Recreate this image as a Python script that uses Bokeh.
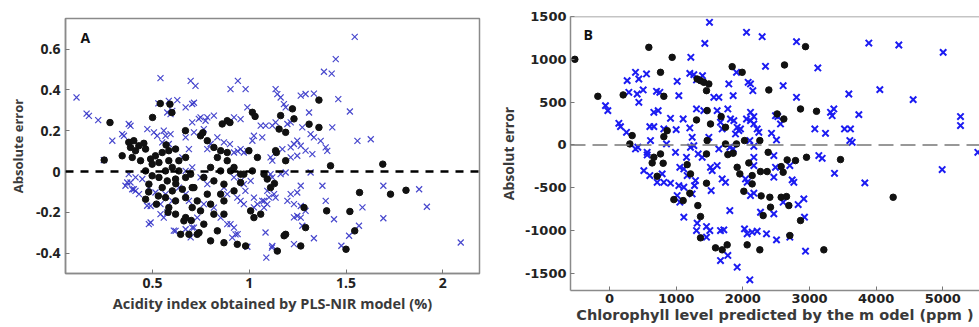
from jinja2 import Template
from bokeh.plotting import figure
from bokeh.models import FixedTicker, Span, Label, Range1d
from bokeh.embed import file_html
from bokeh.resources import INLINE

# ---------------- Panel A data (acidity) ----------------
a_x_ticks = [0.5, 1, 1.5, 2]
a_x_labels = ["0.5", "1", "1.5", "2"]
a_y_ticks = [-0.4, -0.2, 0, 0.2, 0.4, 0.6]
a_y_labels = ["-0.4", "-0.2", "0", "0.2", "0.4", "0.6"]

a_dots = [
    (0.25, 0.056), (0.28, 0.24), (0.50, 0.265), (0.54, 0.333), (0.59, 0.33), (0.60, 0.289), (0.67, 0.2),
    (0.377, 0.143), (0.403, 0.151), (0.429, 0.126), (0.455, 0.138), (0.386, 0.118), (0.412, 0.102),
    (0.464, 0.11), (0.343, 0.077), (0.395, 0.069), (0.438, 0.053), (0.49, 0.061), (0.515, 0.077),
    (0.55, 0.093), (0.584, 0.102), (0.619, 0.11), (0.498, 0.036), (0.533, 0.044), (0.584, 0.053),
    (0.636, 0.053), (0.671, 0.069), (0.567, 0.003), (0.602, 0.02), (0.636, 0.003), (0.464, 0.003),
    (0.498, -0.021), (0.533, -0.029), (0.576, -0.046), (0.619, -0.037), (0.671, -0.029), (0.697, -0.013),
    (0.481, -0.062), (0.55, -0.079), (0.602, -0.095), (0.654, -0.087), (0.705, -0.079), (0.464, -0.136),
    (0.567, -0.128), (0.619, -0.144), (0.671, -0.128), (0.584, -0.177), (0.619, -0.209), (0.671, -0.226),
    (0.705, -0.177), (0.645, -0.308), (0.688, -0.308), (0.662, -0.242),
    (0.86, 0.233), (0.886, 0.249), (1.016, 0.29), (1.03, 0.27), (1.162, 0.274), (1.223, 0.307),
    (1.231, 0.258), (1.154, 0.208), (1.188, 0.192),
    (0.748, 0.175), (0.783, 0.151), (0.817, 0.118), (0.852, 0.102), (0.886, 0.093), (0.835, 0.069),
    (0.886, 0.053), (0.921, 0.02), (0.955, -0.013), (0.998, 0.102), (1.042, 0.069), (1.136, 0.102),
    (1.188, 0.053), (0.8, 0.02), (0.852, 0.003), (0.903, 0.003), (0.972, -0.013), (1.016, 0.003),
    (1.076, -0.013), (1.093, -0.037), (0.955, -0.054), (1.11, -0.079), (0.765, -0.029), (0.817, -0.046),
    (0.869, -0.062), (0.714, -0.079), (0.783, -0.111), (0.852, -0.111), (0.921, -0.095), (0.731, -0.144),
    (0.8, -0.16), (0.869, -0.144), (0.748, -0.193), (0.817, -0.209), (0.869, -0.209), (1.007, -0.193),
    (1.059, -0.209), (1.024, -0.226), (0.765, -0.258), (0.835, -0.291), (0.731, -0.308), (0.8, -0.34),
    (0.869, -0.349), (0.938, -0.357), (0.981, -0.365), (1.145, -0.39), (1.188, -0.308), (1.266, -0.365),
    (1.291, -0.275), (1.283, -0.177),
    (1.309, 0.232), (1.36, 0.216), (1.36, 0.35), (1.42, 0.028), (1.40, -0.193), (1.52, -0.196),
    (1.545, -0.291), (1.50, -0.381), (1.57, -0.103), (1.69, 0.036), (1.73, -0.111), (1.81, -0.092),
    (1.14, 0.093), (1.13, -0.059), (1.18, -0.315),
    (0.48, -0.1), (0.52, -0.16), (0.58, -0.2), (0.53, -0.12), (0.7, -0.24), (0.74, -0.3), (0.9, 0.24),
    (0.62, -0.06), (0.57, 0.13), (0.76, 0.19),
]

a_crosses = [
    (0.107, 0.363), (0.159, 0.284), (0.171, 0.273), (0.219, 0.252), (0.248, 0.056), (0.292, 0.151),
    (0.343, 0.183), (0.352, 0.175), (0.377, 0.233), (0.386, 0.224), (0.473, 0.208), (0.507, 0.192),
    (0.524, 0.175), (0.558, 0.2), (0.567, 0.175), (0.593, 0.183), (0.55, 0.143), (0.584, 0.135),
    (0.541, 0.458), (0.697, 0.444), (0.722, 0.42), (0.53, 0.334), (0.584, 0.346), (0.628, 0.35),
    (0.671, 0.314), (0.714, 0.337), (0.576, 0.289), (0.593, 0.281), (0.602, 0.297), (0.705, 0.331),
    (0.748, 0.265), (0.783, 0.265), (0.903, 0.404), (0.941, 0.444), (0.981, 0.404), (0.99, 0.314),
    (1.136, 0.404), (1.145, 0.379), (1.162, 0.363), (1.179, 0.33), (1.188, 0.314), (1.266, 0.372),
    (1.291, 0.38), (1.334, 0.382), (1.386, 0.489), (1.426, 0.48), (1.447, 0.551), (1.46, 0.355),
    (1.52, 0.294), (1.545, 0.66), (1.559, 0.15), (1.628, 0.158), (1.693, -0.07), (1.693, -0.229),
    (1.585, -0.176), (1.567, -0.266), (1.516, -0.315), (1.476, -0.364), (1.878, -0.087), (1.918, -0.173),
    (2.093, -0.348), (1.309, 0.289), (1.274, 0.216), (1.317, 0.183), (1.334, 0.167), (1.369, 0.15),
    (1.395, 0.118), (1.403, 0.101), (1.429, 0.216), (1.378, -0.07), (1.395, -0.144), (1.438, -0.234),
    (1.326, 0.085), (1.317, -0.005), (1.334, -0.327), (1.231, -0.225), (1.274, -0.266), (1.231, -0.356),
    (1.117, -0.373), (1.088, -0.422), (1.084, -0.299), (0.99, -0.369), (1.076, -0.144), (1.093, -0.16),
    (1.102, -0.127), (1.024, -0.176), (0.49, -0.25), (0.472, -0.168), (0.412, -0.095), (0.369, -0.054),
    (0.395, -0.087), (0.671, 0.167), (0.688, 0.11), (0.654, 0.069),
    (0.377, -0.013), (0.412, -0.029), (0.386, -0.054), (0.36, -0.07), (0.447, -0.037), (0.403, -0.087),
    (0.43, -0.111), (0.481, -0.079), (0.515, -0.103), (0.49, -0.169), (0.541, -0.16), (0.567, -0.111),
    (0.602, -0.144), (0.541, -0.209), (0.558, -0.226), (0.576, -0.201), (0.481, -0.258), (0.619, -0.291),
    (0.671, -0.283), (0.705, -0.275), (0.705, 0.02), (0.671, 0.003), (0.636, -0.079), (0.671, -0.111),
    (0.688, -0.144), (0.705, 0.241), (0.739, 0.258), (0.774, 0.249), (0.765, 0.208), (0.714, 0.192),
    (0.817, 0.274), (0.921, 0.265), (0.955, 0.257), (1.059, 0.225), (1.085, 0.225), (1.119, 0.225),
    (1.136, 0.241), (1.197, 0.233), (1.214, 0.241), (1.016, 0.151), (1.024, 0.175), (1.067, 0.167),
    (1.11, 0.069), (1.119, 0.053), (1.171, 0.11), (1.214, 0.118), (1.231, 0.135), (1.248, 0.151),
    (1.266, 0.126), (1.291, 0.102), (1.214, 0.069), (1.248, 0.077), (0.955, 0.11), (0.972, 0.093),
    (0.921, 0.093), (0.869, 0.143), (0.835, 0.167), (0.8, 0.135), (0.783, 0.11), (1.11, -0.013),
    (1.119, -0.029), (1.162, -0.013), (1.188, -0.005), (1.266, -0.07), (1.248, -0.103), (1.214, -0.111),
    (1.197, -0.144), (1.231, -0.16), (1.266, -0.169), (1.291, -0.193), (1.093, -0.095), (1.128, -0.111),
    (1.136, -0.128), (1.024, -0.128), (1.042, -0.16), (1.067, -0.144), (1.076, -0.177), (0.938, -0.128),
    (0.955, -0.144), (0.972, -0.16), (0.869, -0.079), (0.886, -0.111), (0.921, -0.029), (0.972, -0.062),
    (1.007, -0.046), (0.748, -0.029), (0.783, -0.062), (0.765, -0.16), (0.817, -0.177), (0.852, -0.226),
    (0.903, -0.258), (0.921, -0.275), (0.929, -0.308), (0.912, -0.324), (1.119, -0.365), (1.248, -0.218),
    (1.266, -0.226), (0.731, -0.226), (0.714, -0.275), (0.61, -0.29), (0.697, -0.323), (0.94, -0.307),
    (0.886, -0.258), (0.955, -0.046), (0.98, -0.095), (0.94, 0.1), (0.99, 0.1), (0.9, 0.134),
]

# ---------------- Panel B data (chlorophyll) ----------------
b_x_ticks = [0, 1000, 2000, 3000, 4000, 5000]
b_x_labels = ["0", "1000", "2000", "3000", "4000", "5000"]
b_y_ticks = [-1500, -1000, -500, 0, 500, 1000, 1500]
b_y_labels = ["-1500", "-1000", "-500", "0", "500", "1000", "1500"]

b_dots = [
    (-520, 1000), (-175, 568), (205, 584), (340, 109), (305, 12), (590, 1140), (940, 1023), (765, 848),
    (815, 568), (865, 167), (815, 97), (665, -144), (640, -210), (765, -105), (805, -214), (715, -366),
    (965, -638), (1105, -650), (1165, -230), (1215, -338), (1205, -564), (1315, 770), (1365, 751),
    (1415, 731), (1490, 712), (1455, 634), (1465, 401), (1305, 292), (1515, 245), (1465, 51),
    (1455, -105), (1455, -447), (1325, -708), (1365, -836), (1365, -1085), (1590, -1202), (1690, -1225),
    (1765, -1167), (1675, 331), (1740, 206), (1740, 12), (1775, -113), (1855, -97), (1915, -261),
    (1840, 914), (1990, 848), (1905, 12), (1955, -338), (2025, 51), (2015, -541), (2065, -1167),
    (2255, -1225), (2090, -210), (2140, -358), (2140, -455), (2255, 51), (2265, -311), (2275, -595),
    (2365, -311), (2380, -86), (2405, -611), (2415, -727), (2305, -825), (2390, 642), (2515, 362),
    (2615, 303), (2625, 934), (2575, -253), (2605, -319), (2665, -175), (2790, -183), (2575, -611),
    (2655, -603), (2690, -708), (2705, -1058), (2865, 420), (2940, 1148), (2955, -144), (2865, -883),
    (3105, 393), (3215, -1225), (3465, -171), (4255, -611),
]

b_crosses = [
    (1500, 1432), (1430, 1186), (2055, 1315), (2290, 1264), (2805, 1206), (3890, 1190), (4340, 1167),
    (5005, 1081), (1220, 1023), (2340, 918), (3125, 899), (-60, 459), (-25, 401), (140, 253), (165, 214),
    (255, 148), (265, 751), (390, 848), (440, 770), (555, 829), (290, 615), (415, 595), (440, 498),
    (505, 642), (705, 626), (755, 615), (665, 381), (730, 401), (605, 214), (665, 214), (615, 51),
    (815, 187), (915, 311), (1000, 179), (990, -86), (1015, 743), (1040, 576), (1105, 303), (1205, 198),
    (1205, 836), (1265, 821), (1395, 809), (1305, 759), (1305, 420), (1415, 401), (1240, 89),
    (1215, -27), (1265, -8), (1155, -144), (1330, -105), (1390, -144), (1055, -261), (1115, -280),
    (1165, -358), (1290, -416), (1275, -475), (1240, -572), (1040, -475), (1115, -494), (1015, -591),
    (1055, -669), (1115, -844), (1315, -914), (1305, -1000), (1455, -953), (1455, -1077), (1505, -1000),
    (565, -86), (515, -300), (605, -358), (715, -436), (815, -436), (790, -338), (915, -447), (425, -27),
    (390, -47), (855, 12), (565, -117), (1490, 89), (1515, -261), (1540, -300), (1525, -533),
    (1565, 556), (1640, 556), (1615, 401), (1640, -47), (1665, 265), (1690, 187), (1615, -241),
    (1690, -397), (1740, -436), (1665, -1000), (1715, -992), (1665, -1350), (1775, -1291), (1915, -1428),
    (2105, -1575), (1790, 712), (1855, 576), (1905, 848), (1775, 420), (1815, 303), (1865, 284),
    (1915, 206), (1965, 187), (1890, 128), (1940, 167), (1805, -27), (1855, -47), (1805, -766),
    (2025, -980), (2065, -1038), (2140, -1019), (2215, -1008), (2355, -1038), (2505, -1109), (2080, 731),
    (2115, 712), (2150, 634), (2055, 303), (2115, 284), (2165, 245), (2115, 381), (2165, 331),
    (2215, 187), (2240, 148), (2105, 51), (2165, -16), (2165, -144), (2165, -241), (2065, -436),
    (2040, -397), (2115, -591), (2165, -564), (2265, -786), (2465, -805), (2465, -377), (2490, -261),
    (2465, -124), (2490, 342), (2525, 331), (2430, 136), (2505, 58), (2565, 245), (2605, 692),
    (2605, -669), (2705, -241), (2740, -408), (2765, -436), (2705, -1077), (2940, -1241), (2915, -630),
    (2925, -844), (2830, -696), (2805, 556), (3080, 187), (3240, 136), (3140, -124), (3190, -156),
    (3315, 381), (3340, 342), (3365, 420), (3375, -331), (3525, 187), (3590, 595), (3615, 187),
    (3640, 31), (3605, 51), (3740, 354), (3830, -443), (4055, 646), (4555, 529), (4990, -288),
    (5265, 226), (5265, 331), (5525, -86),
]

# ---------------- Panel A ----------------
A_BLUE = "#3434c8"
pA = figure(width=490, height=327, output_backend="svg", toolbar_location=None,
            x_range=Range1d(0.05, 2.19), y_range=Range1d(-0.5, 0.75),
            min_border_left=65, min_border_right=11, min_border_top=18, min_border_bottom=54)
pA.grid.visible = False
pA.outline_line_color = "#8a8a8a"
pA.outline_line_width = 1.5
pA.background_fill_color = "white"
pA.border_fill_color = "white"

pA.scatter([p[0] for p in a_crosses], [p[1] for p in a_crosses], marker="x", size=8.5,
           line_color=A_BLUE, line_width=1.2, line_alpha=0.9)
pA.scatter([p[0] for p in a_dots], [p[1] for p in a_dots], marker="circle", size=6.5,
           fill_color="#111111", line_color="#111111")
pA.add_layout(Span(location=0, dimension="width", line_color="black", line_width=2.5,
                   line_dash="8 7"))
pA.add_layout(Label(x=0.128, y=0.657, text="A", text_font="Open Sans", text_font_style="bold",
                    text_font_size="14px", text_baseline="middle", text_color="#111111"))

for ax in (pA.xaxis[0], pA.yaxis[0]):
    ax.axis_line_color = "#8a8a8a"
    ax.axis_line_width = 1.5
    ax.major_tick_in = 4
    ax.major_tick_out = 0
    ax.minor_tick_line_color = None
    ax.major_tick_line_color = "#777777"
    ax.major_label_text_font = "Open Sans"
    ax.major_label_text_font_style = "bold"
    ax.major_label_text_font_size = "14px"
    ax.major_label_text_color = "#222222"
    ax.axis_label_text_font = "Open Sans"
    ax.axis_label_text_font_style = "bold"
    ax.axis_label_text_color = "#3a3a3a"

pA.xaxis[0].ticker = FixedTicker(ticks=a_x_ticks)
pA.xaxis[0].major_label_overrides = dict(zip(a_x_ticks, a_x_labels))
pA.yaxis[0].ticker = FixedTicker(ticks=a_y_ticks)
pA.yaxis[0].major_label_overrides = dict(zip(a_y_ticks, a_y_labels))
pA.xaxis[0].axis_label = "Acidity index obtained by PLS-NIR model (%)"
pA.xaxis[0].axis_label_text_font_size = "14.5px"
pA.yaxis[0].axis_label = "Absolute error"
pA.yaxis[0].axis_label_text_font_size = "13px"
pA.xaxis[0].major_label_standoff = 4
pA.xaxis[0].axis_label_standoff = 3
pA.yaxis[0].major_label_standoff = 5
pA.yaxis[0].axis_label_standoff = 6

# ---------------- Panel B ----------------
B_BLUE = "#1c1cf2"
pB = figure(width=489, height=327, output_backend="svg", toolbar_location=None,
            x_range=Range1d(-585, 5550), y_range=Range1d(-1700, 1500),
            min_border_left=80, min_border_right=0, min_border_top=16, min_border_bottom=37)
pB.grid.visible = False
pB.outline_line_color = None
pB.background_fill_color = "white"
pB.border_fill_color = "white"

pB.scatter([p[0] for p in b_crosses], [p[1] for p in b_crosses], marker="x", size=9,
           line_color=B_BLUE, line_width=2)
pB.scatter([p[0] for p in b_dots], [p[1] for p in b_dots], marker="circle", size=6.5,
           fill_color="#111111", line_color="#111111")
pB.add_layout(Span(location=0, dimension="width", line_color="#777777", line_width=1.5,
                   line_dash="15 7"))
pB.add_layout(Span(location=1500, dimension="width", line_color="#8a8a8a", line_width=1.5))
pB.add_layout(Label(x=-390, y=1288, text="B", text_font="Open Sans", text_font_style="bold",
                    text_font_size="14px", text_baseline="middle", text_color="#111111"))

for ax in (pB.xaxis[0], pB.yaxis[0]):
    ax.axis_line_color = "#8a8a8a"
    ax.axis_line_width = 1.5
    ax.major_tick_in = 4
    ax.major_tick_out = 0
    ax.minor_tick_line_color = None
    ax.major_tick_line_color = "#777777"
    ax.major_label_text_font = "DejaVu Sans"
    ax.major_label_text_font_style = "bold"
    ax.major_label_text_font_size = "13px"
    ax.major_label_text_color = "#222222"
    ax.axis_label_text_font_style = "bold"
    ax.axis_label_text_color = "#3a3a3a"

pB.xaxis[0].ticker = FixedTicker(ticks=b_x_ticks)
pB.xaxis[0].major_label_overrides = dict(zip(b_x_ticks, b_x_labels))
pB.yaxis[0].ticker = FixedTicker(ticks=b_y_ticks)
pB.yaxis[0].major_label_overrides = dict(zip(b_y_ticks, b_y_labels))
pB.xaxis[0].axis_label = "Chlorophyll level predicted by the m odel (ppm )"
pB.xaxis[0].axis_label_text_font = "DejaVu Sans"
pB.xaxis[0].axis_label_text_font_size = "14.5px"
pB.yaxis[0].axis_label = "Absolut error"
pB.yaxis[0].axis_label_text_font = "Open Sans"
pB.yaxis[0].axis_label_text_font_size = "14px"
pB.xaxis[0].major_label_standoff = 3
pB.xaxis[0].axis_label_standoff = 1
pB.yaxis[0].major_label_standoff = 4
pB.yaxis[0].axis_label_standoff = 4

# Two independent roots side by side (no frame alignment between the panels)
page_template = Template("""{% from macros import embed %}<!DOCTYPE html>
<html lang="en">
<head>
<meta charset="utf-8">
<title>{{ title }}</title>
<style>html, body { margin: 0; padding: 0; overflow: hidden; background: white; }
.panels { display: flex; flex-direction: row; align-items: flex-start; }</style>
{{ bokeh_css }}
{{ bokeh_js }}
</head>
<body>
<div class="panels">
{% for doc in docs %}{% for root in doc.roots %}{{ embed(root) }}
{% endfor %}{% endfor %}
</div>
{{ plot_script }}
</body>
</html>
""")

open("out.html", "w").write(file_html([pA, pB], INLINE, title="Absolute error plots",
                                      template=page_template))
